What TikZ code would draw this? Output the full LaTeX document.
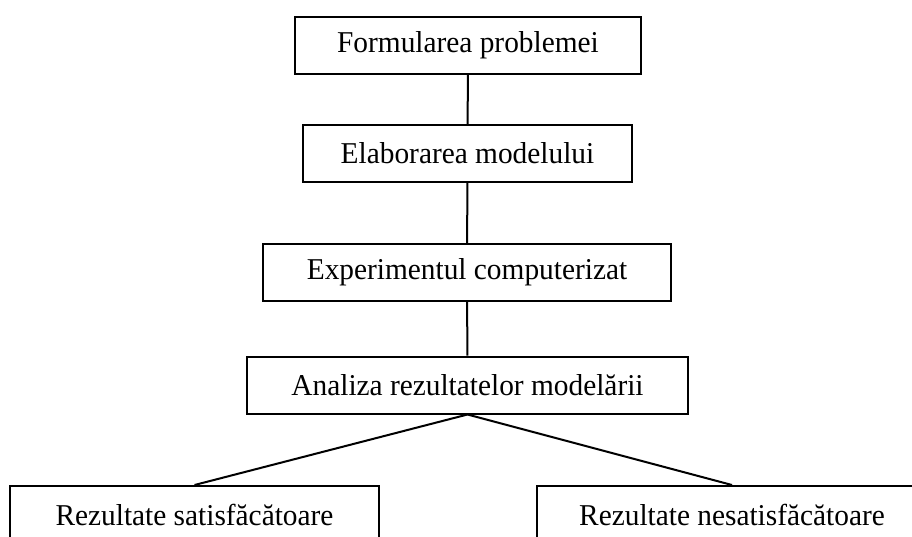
\documentclass[tikz,border=0pt]{standalone}
\usepackage{fontspec}
\setmainfont{Liberation Serif}[FakeStretch=0.97]
\usepackage{tikz}
\tikzset{
  etapa/.style={draw=black,line width=1.5pt,inner sep=0pt,minimum height=42.75pt,align=center,font=\fontsize{22.7}{27}\selectfont},
  legatura/.style={line width=1.5pt,draw=black}
}
\begin{document}
\begin{tikzpicture}[x=0.75pt,y=-0.75pt]
  \useasboundingbox (0,0) rectangle (912,536);
  \clip (0,0) rectangle (912,536);
  \node[etapa,minimum width=259.5pt] (problema) at (468,45.5) {Formularea problemei};
  \node[etapa,minimum width=246.75pt] (model) at (467.5,153.5) {Elaborarea modelului};
  \node[etapa,minimum width=306pt] (experiment) at (467,272.5) {Experimentul computerizat};
  \node[etapa,minimum width=330.75pt] (analiza) at (467.5,385) {Analiza rezultatelor modelării};
  \node[etapa,minimum width=276.75pt] (satisf) at (194.5,514.5) {Rezultate satisfăcătoare};
  \node[etapa,minimum width=292.5pt] (nesatisf) at (732,514.5) {Rezultate nesatisfăcătoare};
  \draw[legatura] (problema) -- (model);
  \draw[legatura] (model) -- (experiment);
  \draw[legatura] (experiment) -- (analiza);
  \draw[legatura] (analiza.south) -- (satisf.north);
  \draw[legatura] (analiza.south) -- (nesatisf.north);
\end{tikzpicture}
\end{document}
